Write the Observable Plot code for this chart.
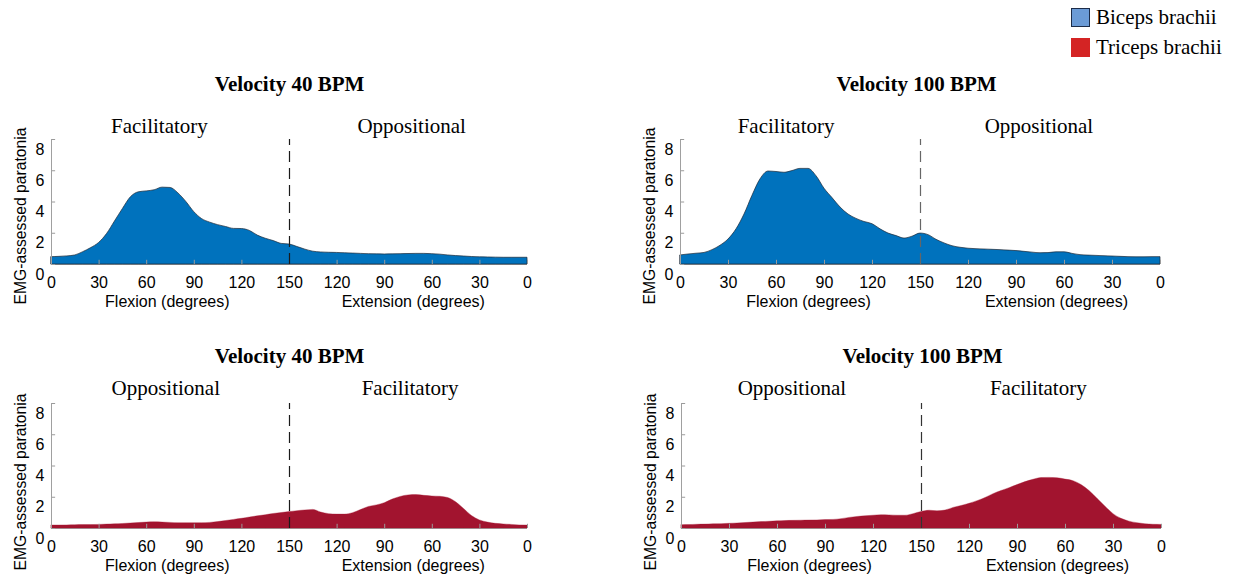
<!DOCTYPE html>
<html>
<head>
<meta charset="utf-8">
<script src="https://cdn.jsdelivr.net/npm/d3@7"></script>
<script src="https://cdn.jsdelivr.net/npm/@observablehq/plot@0.6"></script>
<style>
  body { margin: 0; background: #fff; }
  #fig { position: relative; width: 1242px; height: 577px; overflow: hidden; background: #fff; }
  #fig svg { position: absolute; overflow: visible; }
  .legend-row { position: absolute; left: 1071px; height: 21px; display: flex; align-items: center;
    font-family: "Liberation Serif", "Times New Roman", serif; font-size: 21px; color: #000; white-space: nowrap; }
  .swatch { width: 19px; height: 19px; box-sizing: border-box; margin-right: 6px; }
</style>
</head>
<body>
<div id="fig"></div>
<script>
// Position along one movement cycle: 0..150 = flexion 0°→150°, 150..300 = extension 150°→0°
const cyclePosition = [
  0, 5, 10, 15, 20, 25, 30, 35, 40, 45, 50, 55, 60, 65, 70, 75, 80, 85, 90, 95,
  100, 105, 110, 115, 120, 125, 130, 135, 140, 145, 150, 155, 160, 165, 170, 175, 180, 185, 190, 195,
  200, 205, 210, 215, 220, 225, 230, 235, 240, 245, 250, 255, 260, 265, 270, 275, 280, 285, 290, 295, 300
];

// EMG-assessed paratonia, biceps brachii
const biceps40 = [
  0.47, 0.49, 0.52, 0.58, 0.79, 1.05, 1.38, 1.95, 2.75, 3.55, 4.30, 4.62, 4.68, 4.75, 4.92, 4.90, 4.55, 4.00, 3.35, 2.90,
  2.68, 2.52, 2.40, 2.28, 2.27, 2.15, 1.85, 1.65, 1.50, 1.32, 1.28, 1.12, 0.95, 0.82, 0.77, 0.75, 0.74, 0.72, 0.70, 0.68,
  0.66, 0.65, 0.64, 0.65, 0.66, 0.67, 0.68, 0.68, 0.66, 0.63, 0.58, 0.54, 0.51, 0.48, 0.46, 0.45, 0.44, 0.43, 0.43, 0.43, 0.43
];
const biceps100 = [
  0.58, 0.64, 0.69, 0.74, 0.92, 1.20, 1.60, 2.25, 3.20, 4.40, 5.45, 5.95, 5.92, 5.87, 5.98, 6.12, 6.12, 5.65, 4.85, 4.25,
  3.65, 3.20, 2.92, 2.72, 2.58, 2.25, 1.98, 1.82, 1.66, 1.78, 1.98, 1.88, 1.58, 1.35, 1.17, 1.07, 1.01, 0.98, 0.96, 0.94,
  0.92, 0.89, 0.86, 0.81, 0.76, 0.72, 0.73, 0.78, 0.78, 0.68, 0.60, 0.57, 0.55, 0.53, 0.51, 0.49, 0.47, 0.46, 0.46, 0.47, 0.47
];

// EMG-assessed paratonia, triceps brachii
const triceps40 = [
  0.19, 0.19, 0.20, 0.21, 0.22, 0.22, 0.23, 0.25, 0.27, 0.29, 0.32, 0.35, 0.38, 0.40, 0.38, 0.36, 0.34, 0.34, 0.34, 0.34,
  0.36, 0.41, 0.48, 0.55, 0.62, 0.70, 0.78, 0.85, 0.93, 0.99, 1.05, 1.11, 1.16, 1.19, 1.02, 0.92, 0.89, 0.89, 0.98, 1.18,
  1.38, 1.48, 1.62, 1.85, 2.02, 2.12, 2.14, 2.09, 2.05, 2.03, 1.95, 1.68, 1.25, 0.80, 0.52, 0.38, 0.30, 0.26, 0.23, 0.20, 0.19
];
const triceps100 = [
  0.21, 0.22, 0.24, 0.25, 0.27, 0.28, 0.30, 0.32, 0.35, 0.38, 0.41, 0.43, 0.46, 0.48, 0.49, 0.50, 0.51, 0.52, 0.54, 0.55,
  0.60, 0.68, 0.74, 0.78, 0.82, 0.85, 0.84, 0.82, 0.82, 0.92, 1.06, 1.14, 1.10, 1.15, 1.32, 1.44, 1.58, 1.75, 1.95, 2.20,
  2.40, 2.58, 2.78, 2.97, 3.12, 3.23, 3.24, 3.22, 3.13, 3.03, 2.78, 2.40, 1.90, 1.40, 0.92, 0.62, 0.44, 0.34, 0.27, 0.24, 0.23
];

// Axis ticks
const xTickPositions = [0, 30, 60, 90, 120, 150, 180, 210, 240, 270, 300];
const xTickLabels = ["0", "30", "60", "90", "120", "150", "120", "90", "60", "30", "0"];
const yTicks = [0, 2, 4, 6, 8];

// Text
const muscles = ["Biceps brachii", "Triceps brachii"];
const velocityTitles = ["Velocity 40 BPM", "Velocity 100 BPM"];
const phaseNames = ["Facilitatory", "Oppositional"];
const axisTitles = ["Flexion (degrees)", "Extension (degrees)", "EMG-assessed paratonia"];

const BLUE = "#0072BD";
const RED = "#A2142F";
const SERIF = "'Liberation Serif', 'Times New Roman', serif";
const SANS = "'Liberation Sans', Arial, sans-serif";

const panels = [
  {values: biceps40, fill: BLUE, edge: "#1d2b3a", title: velocityTitles[0], phases: [phaseNames[0], phaseNames[1]],
   left: 0, top: 60, width: 600, height: 250, ml: 51, mr: 73, mt: 79, mb: 46, titleDx: 0,
   titleDy: -55, phaseDy: -13, phaseX: [68, 227], axisX: [73, 228], labelDy: 14, dash: "#1a1a1a"},
  {values: biceps100, fill: BLUE, edge: "#1d2b3a", title: velocityTitles[1], phases: [phaseNames[0], phaseNames[1]],
   left: 630, top: 60, width: 600, height: 250, ml: 50, mr: 70, mt: 79, mb: 46, titleDx: -4,
   titleDy: -55, phaseDy: -13, phaseX: [66, 224], axisX: [80, 235], labelDy: 14, dash: "#666"},
  {values: triceps40, fill: RED, edge: null, title: velocityTitles[0], phases: [phaseNames[1], phaseNames[0]],
   left: 0, top: 325, width: 600, height: 252, ml: 51, mr: 73, mt: 78, mb: 49, titleDx: 0,
   titleDy: -47, phaseDy: -15.5, phaseX: [72, 226], axisX: [73, 228], labelDy: 16, dash: "#1a1a1a"},
  {values: triceps100, fill: RED, edge: null, title: velocityTitles[1], phases: [phaseNames[1], phaseNames[0]],
   left: 630, top: 325, width: 600, height: 252, ml: 51, mr: 69, mt: 78, mb: 49, titleDx: 1,
   titleDy: -47, phaseDy: -15.5, phaseX: [69, 223], axisX: [80, 235], labelDy: 16, dash: "#333"}
];

const fig = document.getElementById("fig");

for (const p of panels) {
  const data = cyclePosition.map((x, i) => ({x, v: p.values[i]}));
  const chart = Plot.plot({
    width: p.width,
    height: p.height,
    marginLeft: p.ml,
    marginRight: p.mr,
    marginTop: p.mt,
    marginBottom: p.mb,
    style: {fontFamily: SANS, fontSize: "16px", color: "#000", background: "transparent", overflow: "visible"},
    x: {domain: [0, 300]},
    y: {domain: [0, 8], axis: null},
    marks: [
      Plot.ruleY([0], {stroke: "#a0a0a0", strokeWidth: 1}),
      Plot.areaY(data, {
        x: "x", y: "v", fill: p.fill, curve: "monotone-x",
        stroke: p.edge ?? p.fill, strokeWidth: p.edge ? 0.9 : 0.6, strokeOpacity: p.edge ? 0.8 : 0.6
      }),
      // inward tick marks on both axes
      Plot.ruleX(xTickPositions, {y1: 0, y2: 0.27, stroke: "#9a9a9a", strokeWidth: 1}),
      Plot.ruleY(yTicks, {x1: 0, x2: 2.6, stroke: "#9a9a9a", strokeWidth: 1}),
      Plot.ruleX([0], {y1: 0, y2: 8, stroke: "#a0a0a0", strokeWidth: 1}),
      // boundary between flexion and extension
      Plot.ruleX([150], {y1: 0, y2: 8, stroke: p.dash, strokeWidth: 1.2, strokeDasharray: "11,6"}),
      Plot.axisX({
        ticks: xTickPositions, tickSize: 0, tickPadding: 12, label: null,
        tickFormat: d => xTickLabels[xTickPositions.indexOf(d)], fontSize: 16
      }),
      Plot.text(yTicks, {x: 0, y: d => d, text: d => String(d), textAnchor: "end", dx: -7, dy: 10, fontSize: 16}),
      // axis titles
      Plot.text([axisTitles[0], axisTitles[1]], {
        x: (d, i) => p.axisX[i], frameAnchor: "bottom", lineAnchor: "middle", dy: 37, fontSize: 16, text: d => d
      }),
      Plot.text([axisTitles[2]], {
        frameAnchor: "left", textAnchor: "middle", lineAnchor: "middle", rotate: -90,
        dx: -30.5, dy: p.labelDy, fontSize: 15.7, text: d => d
      }),
      // phase labels and panel title
      Plot.text(p.phases, {
        x: (d, i) => p.phaseX[i], frameAnchor: "top", lineAnchor: "middle", dy: p.phaseDy,
        fontSize: 21, fontFamily: SERIF, text: d => d
      }),
      Plot.text([p.title], {
        x: 150, frameAnchor: "top", lineAnchor: "middle", dx: p.titleDx, dy: p.titleDy,
        fontSize: 21, fontWeight: "bold", fontFamily: SERIF, text: d => d
      })
    ]
  });
  chart.style.left = p.left + "px";
  chart.style.top = p.top + "px";
  fig.appendChild(chart);
}

// Legend
const legendItems = [
  {name: muscles[0], color: "#6b9bd6", border: "1.5px solid #1c2c48", top: 7},
  {name: muscles[1], color: "#d42424", border: "none", top: 37}
];
for (const item of legendItems) {
  const row = document.createElement("div");
  row.className = "legend-row";
  row.style.top = item.top + "px";
  const sw = document.createElement("span");
  sw.className = "swatch";
  sw.style.background = item.color;
  sw.style.border = item.border;
  const label = document.createElement("span");
  label.textContent = item.name;
  row.appendChild(sw);
  row.appendChild(label);
  fig.appendChild(row);
}
</script>
</body>
</html>
